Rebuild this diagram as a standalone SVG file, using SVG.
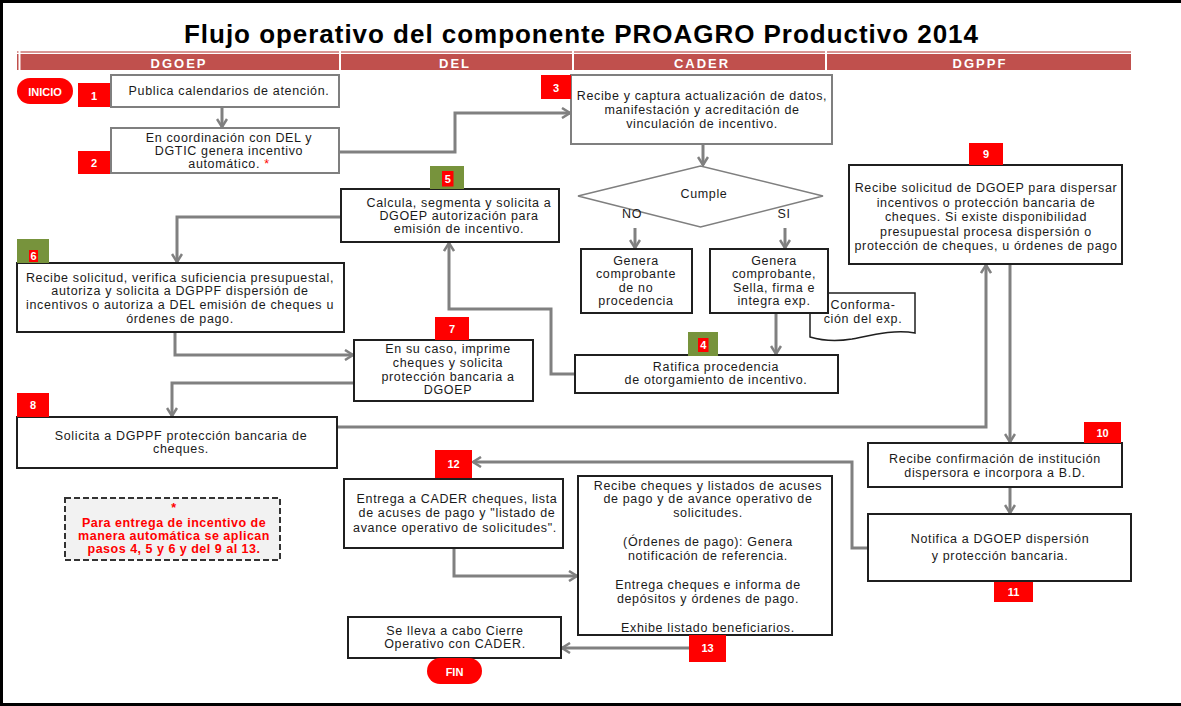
<svg xmlns="http://www.w3.org/2000/svg" width="1181" height="706" viewBox="0 0 1181 706">
<defs>
<style>
.t{font-family:"Liberation Sans",Arial,sans-serif;font-size:12.5px;letter-spacing:0.65px;fill:#1a1a1a;text-anchor:middle}
.bx{fill:#fff;stroke:#1f1f1f;stroke-width:2}
.bg{fill:#fff;stroke:#7f7f7f;stroke-width:2}
.red{fill:#ff0000}
.grn{fill:#77933c}
.num{font-family:"Liberation Sans",Arial,sans-serif;font-size:11px;font-weight:bold;fill:#fff;text-anchor:middle}
.lane{font-family:"Liberation Sans",Arial,sans-serif;font-size:13px;font-weight:bold;fill:#fff;text-anchor:middle;letter-spacing:2px}
.cn{fill:none;stroke:#808080;stroke-width:3;marker-end:url(#ah)}
.note{font-family:"Liberation Sans",Arial,sans-serif;font-size:12.5px;letter-spacing:0.5px;font-weight:bold;fill:#ff0000;text-anchor:middle}
</style>
<marker id="ah" viewBox="0 0 12 12" refX="10" refY="6" markerWidth="12" markerHeight="12" markerUnits="userSpaceOnUse" orient="auto">
<path d="M2,1 L10,6 L2,11" fill="none" stroke="#808080" stroke-width="2.5"/>
</marker>
</defs>
<rect width="1181" height="706" fill="#fff"/>
<path d="M1.5,706 V1.5 H1181 M0,704.5 H1181" fill="none" stroke="#000" stroke-width="3"/>
<text x="581" y="43" font-family="Liberation Sans,Arial,sans-serif" font-size="26" font-weight="bold" fill="#000" text-anchor="middle" textLength="794" lengthAdjust="spacing">Flujo operativo del componente PROAGRO Productivo 2014</text>
<g id="header">
<rect x="17" y="51" width="1114" height="2" fill="#d99694"/>
<rect x="17" y="54" width="1114" height="16" fill="#c0504d"/>
<path d="M19.5,51 V70 M340,51 V70 M573,51 V70 M826,51 V70" stroke="#fff" stroke-width="2"/>
<text class="lane" x="179" y="68">DGOEP</text>
<text class="lane" x="455" y="68">DEL</text>
<text class="lane" x="702" y="68">CADER</text>
<text class="lane" x="980" y="68">DGPPF</text>
</g>
<g id="connectors">
<path class="cn" d="M222,107 V127"/>
<path class="cn" d="M339,152 H455 V113 H570"/>
<path class="cn" d="M703,144 V165"/>
<path class="cn" d="M635,228 V248"/>
<path class="cn" d="M785,228 V248"/>
<path class="cn" d="M776,313 V354"/>
<path class="cn" d="M575,374 H551 V309 H449 V243"/>
<path class="cn" d="M341,217 H177 V262"/>
<path class="cn" d="M175,332 V355 H353"/>
<path class="cn" d="M354,383 H172 V416"/>
<path class="cn" d="M337,427 H986 V265"/>
<path class="cn" d="M1010,264 V442"/>
<path class="cn" d="M1010,487 V513"/>
<path class="cn" d="M868,548 H852 V462 H473"/>
<path class="cn" d="M454,548 V576 H577"/>
<path class="cn" d="M689,648 H562"/>
</g>
<g id="inicio">
<rect x="17" y="78" width="56" height="26" rx="13" fill="#ff0000"/>
<text class="num" x="45" y="96" font-size="12">INICIO</text>
</g>
<g id="n1">
<rect class="bg" x="111" y="75" width="228" height="32"/>
<rect class="red" x="78" y="83" width="32" height="24"/>
<text class="num" x="94" y="100">1</text>
<text class="t" x="229" y="95">Publica calendarios de atención.</text>
</g>
<g id="n2">
<rect class="bg" x="111" y="128" width="228" height="45"/>
<rect class="red" x="78" y="151" width="32" height="23"/>
<text class="num" x="94" y="167">2</text>
<text class="t" x="229" y="142">En coordinación con DEL y</text>
<text class="t" x="229" y="155">DGTIC genera incentivo</text>
<text class="t" x="229" y="168">automático. <tspan fill="#ff0000">*</tspan></text>
</g>
<g id="n3">
<rect class="bg" x="571" y="75" width="261" height="69"/>
<rect class="red" x="541" y="75" width="30" height="24"/>
<text class="num" x="556" y="92">3</text>
<text class="t" x="702" y="100">Recibe y captura actualización de datos,</text>
<text class="t" x="702" y="114">manifestación y acreditación de</text>
<text class="t" x="702" y="128">vinculación de incentivo.</text>
</g>
<g id="cumple">
<polygon points="578,196 700.5,166 823,196 700.5,227" fill="#fff" stroke="#7f7f7f" stroke-width="1.5"/>
<text class="t" x="704" y="198">Cumple</text>
<text class="t" x="632" y="218">NO</text>
<text class="t" x="784" y="218">SI</text>
</g>
<g id="n5">
<rect class="bx" x="341" y="189" width="218" height="53"/>
<rect class="grn" x="430" y="166" width="34" height="23"/>
<rect class="red" x="442" y="171" width="11.5" height="15.5"/>
<text class="num" x="447.7" y="183">5</text>
<text class="t" x="459" y="207">Calcula, segmenta y solicita a</text>
<text class="t" x="459" y="220">DGOEP autorización para</text>
<text class="t" x="459" y="233">emisión de incentivo.</text>
</g>
<g id="n6">
<rect class="bx" x="17" y="263" width="327" height="69"/>
<rect class="grn" x="17" y="239" width="32" height="24"/>
<rect class="red" x="29" y="250" width="9" height="12"/>
<text class="num" x="33.5" y="259.5">6</text>
<text class="t" x="180" y="282">Recibe solicitud, verifica suficiencia presupuestal,</text>
<text class="t" x="180" y="295">autoriza y solicita a DGPPF dispersión de</text>
<text class="t" x="180" y="309">incentivos  o autoriza a DEL emisión de cheques u</text>
<text class="t" x="180" y="323">órdenes de pago.</text>
</g>
<g id="n7">
<rect class="bx" x="354" y="340" width="179" height="61"/>
<rect class="red" x="435" y="317" width="34" height="23"/>
<text class="num" x="452" y="333">7</text>
<text class="t" x="448" y="353">En su caso, imprime</text>
<text class="t" x="448" y="367">cheques y solicita</text>
<text class="t" x="448" y="381">protección bancaria a</text>
<text class="t" x="448" y="394">DGOEP</text>
</g>
<g id="n8">
<rect class="bx" x="17" y="417" width="320" height="51"/>
<rect class="red" x="17" y="393" width="32" height="24"/>
<text class="num" x="33" y="409">8</text>
<text class="t" x="181" y="440">Solicita a DGPPF protección bancaria de</text>
<text class="t" x="181" y="453">cheques.</text>
</g>
<g id="no">
<rect class="bx" x="581" y="249" width="111" height="64"/>
<text class="t" x="636" y="265">Genera</text>
<text class="t" x="636" y="278">comprobante</text>
<text class="t" x="636" y="292">de no</text>
<text class="t" x="636" y="305">procedencia</text>
</g>
<g id="doc">
<path d="M815,293 H915 V333 C895,329 872,335 852,339 C834,342 820,340 810,337 V293 Z" fill="#fff" stroke="#1f1f1f" stroke-width="1.5"/>
<text class="t" x="863" y="309" font-size="11" letter-spacing="0">Conforma-</text>
<text class="t" x="863" y="323" font-size="11" letter-spacing="0">ción del exp.</text>
</g>
<g id="si">
<rect class="bx" x="710" y="249" width="118" height="64"/>
<text class="t" x="774" y="265">Genera</text>
<text class="t" x="774" y="278">comprobante,</text>
<text class="t" x="774" y="292">Sella, firma e</text>
<text class="t" x="774" y="305">integra exp.</text>
</g>
<g id="n4">
<rect class="bx" x="575" y="355" width="263" height="38"/>
<rect class="grn" x="688" y="332" width="30" height="24"/>
<rect class="red" x="698" y="338" width="10.5" height="14"/>
<text class="num" x="703.3" y="349">4</text>
<text class="t" x="716" y="371">Ratifica procedencia</text>
<text class="t" x="716" y="384">de otorgamiento de incentivo.</text>
</g>
<g id="n9">
<rect class="bx" x="849" y="165" width="273" height="99"/>
<rect class="red" x="969" y="143" width="34" height="22"/>
<text class="num" x="986" y="158">9</text>
<text class="t" x="986" y="192" letter-spacing="0.3">Recibe solicitud de DGOEP para dispersar</text>
<text class="t" x="986" y="206.5">incentivos o protección bancaria de</text>
<text class="t" x="986" y="221">cheques. Si existe disponibilidad</text>
<text class="t" x="986" y="235.5">presupuestal procesa dispersión o</text>
<text class="t" x="986" y="250" letter-spacing="0.3">protección de cheques, u órdenes de pago</text>
</g>
<g id="n10">
<rect class="bx" x="868" y="443" width="254" height="44"/>
<rect class="red" x="1084" y="422" width="37" height="21"/>
<text class="num" x="1102.5" y="437">10</text>
<text class="t" x="995" y="463">Recibe confirmación de institución</text>
<text class="t" x="995" y="477">dispersora e incorpora a B.D.</text>
</g>
<g id="n11">
<rect class="bx" x="868" y="514" width="263" height="67"/>
<rect class="red" x="994" y="582" width="39" height="20"/>
<text class="num" x="1013.5" y="596">11</text>
<text class="t" x="1000" y="543">Notifica a DGOEP dispersión</text>
<text class="t" x="1000" y="560">y protección bancaria.</text>
</g>
<g id="n12">
<rect class="bx" x="344" y="479" width="219" height="69"/>
<rect class="red" x="435" y="450" width="37" height="28"/>
<text class="num" x="453.5" y="468">12</text>
<text class="t" x="457" y="503" letter-spacing="0.3">Entrega a CADER cheques, lista</text>
<text class="t" x="457" y="517" letter-spacing="0.3">de acuses de pago y "listado de</text>
<text class="t" x="455" y="532" letter-spacing="0.2">avance operativo de solicitudes".</text>
</g>
<g id="n13">
<rect class="bx" x="578" y="476" width="254" height="159"/>
<rect class="red" x="689" y="635" width="37" height="27"/>
<text class="num" x="707.5" y="652">13</text>
<text class="t" x="708" y="490">Recibe cheques y listados de acuses</text>
<text class="t" x="708" y="503">de pago y de avance operativo de</text>
<text class="t" x="708" y="517">solicitudes.</text>
<text class="t" x="708" y="546">(Órdenes de pago): Genera</text>
<text class="t" x="708" y="560">notificación de referencia.</text>
<text class="t" x="708" y="589">Entrega cheques e informa de</text>
<text class="t" x="708" y="603">depósitos y órdenes de pago.</text>
<text class="t" x="708" y="632">Exhibe listado beneficiarios.</text>
</g>
<g id="cierre">
<rect class="bx" x="348" y="617" width="213" height="41"/>
<text class="t" x="455" y="635">Se lleva a cabo Cierre</text>
<text class="t" x="455" y="648">Operativo con CADER.</text>
</g>
<g id="fin">
<rect x="427" y="658" width="55" height="26" rx="13" fill="#ff0000"/>
<text class="num" x="454.5" y="676" font-size="12">FIN</text>
</g>
<g id="nota">
<rect x="65" y="498" width="215" height="62" fill="#f2f2f2" stroke="#333" stroke-width="2" stroke-dasharray="6,3"/>
<text class="note" x="174" y="512">*</text>
<text class="note" x="174" y="527">Para entrega de incentivo de</text>
<text class="note" x="174" y="540">manera automática se aplican</text>
<text class="note" x="174" y="553">pasos 4, 5 y 6 y del 9 al 13.</text>
</g>
</svg>
